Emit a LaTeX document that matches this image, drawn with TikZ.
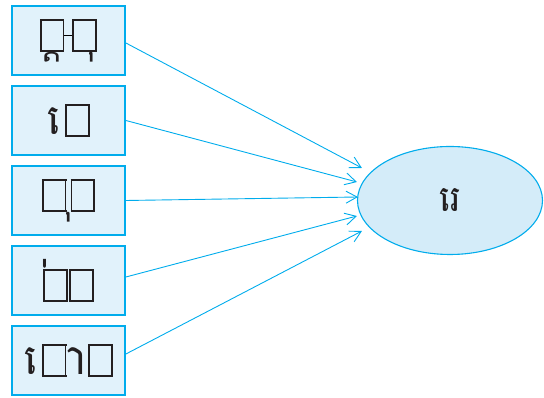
\documentclass[tikz,border=0pt]{standalone}
\usepackage{fontspec}
\usepackage{xcolor}
\usetikzlibrary{arrows.meta,shapes.geometric}
\newfontfamily\khfont[Script=Khmer]{Battambang}
\definecolor{lineblue}{RGB}{0,172,236}
\definecolor{boxfill}{RGB}{225,242,251}
\definecolor{ellfill}{RGB}{212,236,249}
\definecolor{inkgray}{RGB}{35,31,32}
% empty glyph boxes and stray marks, as the picture prints them
\newcommand\tofu{{\color{inkgray}\fboxsep=0pt\fboxrule=1.8pt\fbox{\rule{0pt}{29pt}\hspace{21pt}}}}
\newcommand\khm[1]{{\color{inkgray}\khfont\fontsize{42}{42}\selectfont ^^^^00a0#1}}

\begin{document}
\begin{tikzpicture}[x=1pt,y=1pt,
    wordbox/.style={draw=lineblue,line width=1.8pt,fill=boxfill,minimum width=113pt,minimum height=69pt,inner sep=0pt},
    topic/.style={ellipse,draw=lineblue,line width=1.1pt,fill=ellfill,minimum width=185pt,minimum height=108pt,inner sep=0pt},
    arr/.style={draw=lineblue,line width=0.9pt,-{Straight Barb[length=11pt,width=12pt]}}]
	\useasboundingbox (0,0) rectangle (544,398);
	\node[wordbox] (b1) at (68.5,357.5) {\tofu\llap{\khm{្ត}}\rule[14pt]{8pt}{1.5pt}\tofu\llap{\khm{ុ}}};
	\node[wordbox] (b2) at (68.5,277.5) {\khm{េ}\hspace{-9pt}\tofu};
	\node[wordbox] (b3) at (68.5,197.5) {\tofu\rlap{\hspace{-6pt}\khm{ុ}}\hspace{4pt}\tofu};
	\node[wordbox] (b4) at (68.5,117.5) {\rlap{\khm{់}}\tofu\hspace{1pt}\tofu};
	\node[wordbox] (b5) at (68.5,37.5) {\khm{េ}\hspace{-9pt}\tofu\hspace{-6pt}\khm{ា}\hspace{1pt}\tofu};
	\node[topic] (t) at (450,197.5) {{\color{inkgray}\khfont\fontsize{36}{36}\selectfont រេ}};
	\foreach \b/\dy/\tip in {b1/-2.5/{5,32.5},b2/0/{0,18.5},b3/0/{1,3.5},b4/3.5/{0,-15.5},b5/6.5/{5,-30.5}}
		\draw[arr] ([yshift=\dy pt]\b.east) -- ([shift={(\tip)}]t.west);
\end{tikzpicture}
\end{document}
